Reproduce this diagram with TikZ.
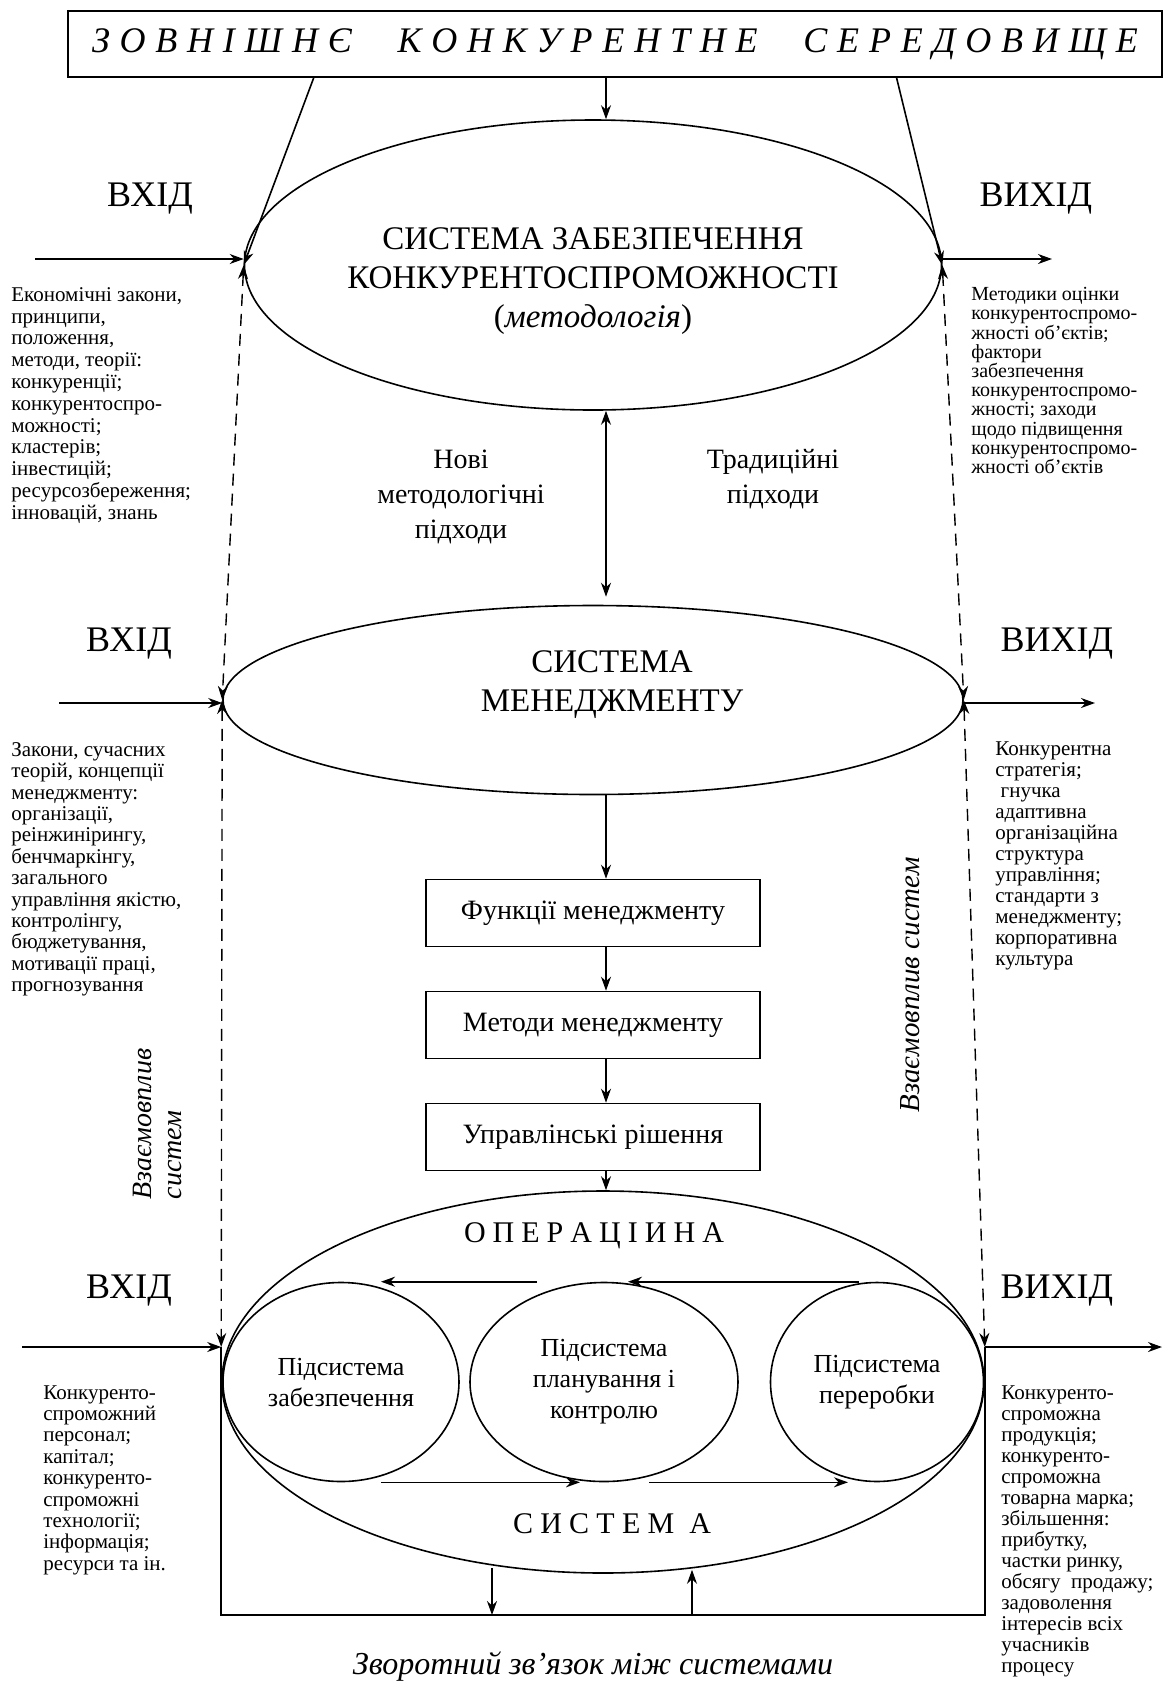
\documentclass[tikz,border=0pt]{standalone}
\usepackage{fontspec}
\setmainfont{Liberation Serif}
\usetikzlibrary{shapes.geometric,arrows.meta,calc}

\begin{document}
\begin{tikzpicture}[x=0.5pt, y=-0.5pt,
  every node/.style={inner sep=0pt},
  sidetext/.style={align=left, anchor=north west, font=\fontsize{10.5}{10.7}\selectfont},
  ioword/.style={font=\fontsize{18}{20}\selectfont},
  systitle/.style={align=center, font=\fontsize{16.5}{19.5}\selectfont},
  bigell/.style={draw, ellipse, line width=0.8pt},
  subell/.style={draw, ellipse, line width=0.8pt, align=center, font=\fontsize{13}{15.5}\selectfont},
  stepbox/.style={draw, rectangle, line width=0.8pt, minimum width=167pt, minimum height=33.5pt, font=\fontsize{14}{16}\selectfont},
  flowarr/.style={-{Stealth[length=7pt,width=5pt]}, line width=0.8pt},
  twoway/.style={{Stealth[length=7pt,width=5pt]}-{Stealth[length=7pt,width=5pt]}, line width=0.8pt},
  mutual/.style={{Stealth[length=7pt,width=5pt]}-{Stealth[length=7pt,width=5pt]}, dash pattern=on 6pt off 4pt, line width=0.7pt},
  slanted/.style={font=\itshape\fontsize{14}{15}\selectfont}
]
\useasboundingbox (0,0) rectangle (1173,1683);

% environment
\node (env) [draw, line width=0.8pt, minimum width=547pt, minimum height=33pt] at (615,44)
  {\raisebox{3.5pt}{\makebox[523pt][s]{\itshape\fontsize{18}{20}\selectfont З О В Н І Ш Н Є \quad К О Н К У Р Е Н Т Н Е \quad С Е Р Е Д О В И Щ Е}}};
\coordinate (axis) at (606,0);

% level 1: methodology
\node (ell1) [bigell, minimum width=348.5pt, minimum height=145pt] at (593,265) {};
\node (ell1t) [systitle] at (593,281) {СИСТЕМА ЗАБЕЗПЕЧЕННЯ\\КОНКУРЕНТОСПРОМОЖНОСТІ\\(\textit{методологія})};
\node (in1w) [ioword] at (150,199) {ВХІД};
\node (out1w) [ioword] at (1036,199) {ВИХІД};
\coordinate (in1) at (35,259);
\coordinate (out1) at (1052,259);
\node (in1t) [sidetext, font=\fontsize{10.5}{10.9}\selectfont] at (11,287) {Економічні закони,\\принципи,\\положення,\\методи, теорії:\\конкуренції;\\конкурентоспро-\\можності;\\кластерів;\\інвестицій;\\ресурсозбереження;\\інновацій, знань};
\node (out1t) [sidetext, font=\fontsize{10}{9.6}\selectfont] at (971,287) {Методики оцінки\\конкурентоспромо-\\жності об’єктів;\\фактори\\забезпечення\\конкурентоспромо-\\жності; заходи\\щодо підвищення\\конкурентоспромо-\\жності об’єктів};

\node (newap) [align=center, font=\fontsize{14}{17.5}\selectfont] at (461,497) {Нові\\методологічні\\підходи};
\node (oldap) [align=center, font=\fontsize{14}{17.5}\selectfont] at (773,479) {Традиційні\\підходи};

% level 2: management
\node (ell2) [bigell, minimum width=370pt, minimum height=94.5pt] at (593,700) {};
\node (ell2t) [systitle] at (612,685) {СИСТЕМА\\МЕНЕДЖМЕНТУ};
\node (in2w) [ioword] at (129,644) {ВХІД};
\node (out2w) [ioword] at (1057,644) {ВИХІД};
\coordinate (in2) at (59,703);
\coordinate (out2) at (1095,703);
\node (in2t) [sidetext] at (11,742) {Закони, сучасних\\теорій, концепції\\менеджменту:\\організації,\\реінжинірингу,\\бенчмаркінгу,\\загального\\управління якістю,\\контролінгу,\\бюджетування,\\мотивації праці,\\прогнозування};
\node (out2t) [sidetext, font=\fontsize{10.5}{10.5}\selectfont] at (995,741) {Конкурентна\\стратегія;\\\ гнучка\\адаптивна\\організаційна\\структура\\управління;\\стандарти з\\менеджменту;\\корпоративна\\культура};

\node (fun) [stepbox] at (593,913) {Функції менеджменту};
\node (met) [stepbox] at (593,1025) {Методи менеджменту};
\node (dec) [stepbox] at (593,1137) {Управлінські рішення};

% level 3: operations
\node (ell3) [bigell, minimum width=381pt, minimum height=191pt] at (603,1382) {};
\node (opt) [font=\fontsize{15}{17}\selectfont] at (594,1236) {\makebox[130pt][s]{О П Е Р А Ц І И Н А}};
\node (sysb) [font=\fontsize{15}{17}\selectfont] at (612,1524) {\makebox[99pt][s]{С И С Т Е М\enspace А}};
\node (sub1) [subell, minimum width=118pt, minimum height=99.5pt] at (341,1382) {Підсистема\\забезпечення};
\node (sub2) [subell, minimum width=134pt, minimum height=99.5pt] at (604,1382) {Підсистема\\планування і\\контролю};
\node (sub3) [subell, minimum width=106.5pt, minimum height=99.5pt] at (877,1382) {Підсистема\\переробки};
\node (in3w) [ioword] at (129,1291) {ВХІД};
\node (out3w) [ioword] at (1057,1291) {ВИХІД};
\coordinate (in3) at (22,1347);
\coordinate (out3) at (1162,1347);
\node (in3t) [sidetext] at (43,1385) {Конкуренто-\\спроможний\\персонал;\\капітал;\\конкуренто-\\спроможні\\технології;\\інформація;\\ресурси та ін.};
\node (out3t) [sidetext, font=\fontsize{10.5}{10.5}\selectfont] at (1001,1385) {Конкуренто-\\спроможна\\продукція;\\конкуренто-\\спроможна\\товарна марка;\\збільшення:\\прибутку,\\частки ринку,\\обсягу\ \ продажу;\\задоволення\\інтересів всіх\\учасників\\процесу};

\node (mutl) [slanted, rotate=90, align=left] at (157,1124) {Взаємовплив\\систем};
\node (mutr) [slanted, rotate=90, font=\itshape\fontsize{14.5}{15}\selectfont] at (910,985) {Взаємовплив систем};

\coordinate (fbot) at (603,1615);
\coordinate (fbdown) at (492,0);
\coordinate (fbup) at (692,0);
\node (fbt) [font=\itshape\fontsize{16}{18}\selectfont] at (593,1667) {Зворотний зв’язок між системами};

% connectors
\draw[flowarr] ($(env.south west)!0.225!(env.south east)$) -- (ell1.west);
\draw[flowarr] ($(env.south west)!0.757!(env.south east)$) -- (ell1.east);
\draw[flowarr] (env.south -| axis) -- (ell1.north -| axis);
\draw[flowarr] (in1) -- (in1 -| ell1.west);
\draw[flowarr] (out1 -| ell1.east) -- (out1);
\draw[twoway] (ell1.south -| axis) -- ($(ell2.north -| axis)+(0,-8)$);
\draw[flowarr] (in2) -- (in2 -| ell2.west);
\draw[flowarr] (out2 -| ell2.east) -- (out2);
\draw[flowarr] (ell2.south -| axis) -- (fun.north -| axis);
\draw[flowarr] (fun.south -| axis) -- (met.north -| axis);
\draw[flowarr] (met.south -| axis) -- (dec.north -| axis);
\draw[flowarr] (dec.south -| axis) -- (ell3.north -| axis);
\draw[flowarr] (in3) -- (in3 -| ell3.west);
\draw[flowarr] (out3 -| ell3.east) -- (out3);

\draw[mutual] (ell1.west) -- (ell2.west);
\draw[mutual] (ell1.east) -- (ell2.east);
\draw[mutual] (ell2.west) -- (in3 -| ell3.west);
\draw[mutual] (ell2.east) -- (out3 -| ell3.east);

\draw[flowarr] ($(sub2.north)+(-67,0)$) -- ($(sub1.north)+(40,0)$);
\draw[flowarr] ($(sub3.north)+(-18,0)$) -- ($(sub2.north)+(24,0)$);
\draw[flowarr] ($(sub1.south)+(40,0)$) -- ($(sub2.south)+(-24,0)$);
\draw[flowarr] ($(sub2.south)+(45,0)$) -- ($(sub3.south)+(-29,0)$);

\draw[line width=0.8pt] (in3 -| ell3.west) |- (fbot) -| (out3 -| ell3.east);
\draw[flowarr] ($(ell3.south -| fbdown)+(0,-6)$) -- (fbot -| fbdown);
\draw[flowarr] (fbot -| fbup) -- ($(ell3.south -| fbup)+(0,-4)$);
\end{tikzpicture}
\end{document}
